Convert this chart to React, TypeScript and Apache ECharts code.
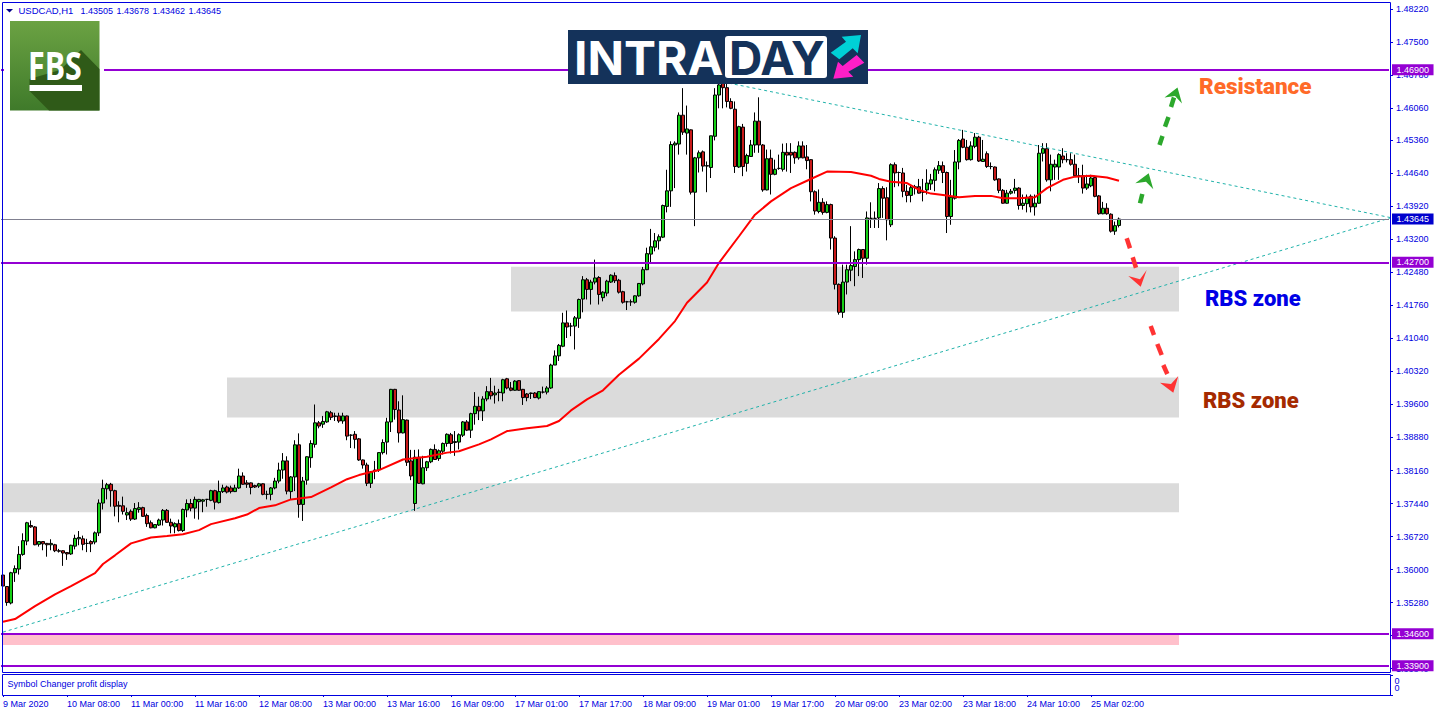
import React, { useEffect, useRef } from "react";
import * as echarts from "echarts";

// Each candle: [open, close, low, high]
const candles = [
[1.3588,1.3564,1.3517,1.3590],[1.3563,1.3528,1.3521,1.3564],[1.3527,1.3593,1.3524,1.3595],[1.3593,1.3602,1.3573,1.3609],[1.3601,1.3633,1.3589,1.3651],
[1.3633,1.3663,1.3630,1.3679],[1.3662,1.3702,1.3653,1.3704],[1.3696,1.3693,1.3691,1.3707],[1.3693,1.3654,1.3653,1.3695],[1.3655,1.3661,1.3650,1.3661],
[1.3661,1.3656,1.3642,1.3661],[1.3657,1.3654,1.3628,1.3658],[1.3654,1.3657,1.3642,1.3666],[1.3654,1.3641,1.3638,1.3656],[1.3641,1.3640,1.3637,1.3645],
[1.3641,1.3636,1.3608,1.3642],[1.3637,1.3634,1.3621,1.3638],[1.3634,1.3653,1.3632,1.3654],[1.3651,1.3668,1.3644,1.3676],[1.3667,1.3670,1.3653,1.3684],
[1.3667,1.3655,1.3642,1.3674],[1.3657,1.3657,1.3638,1.3667],[1.3661,1.3656,1.3638,1.3664],[1.3660,1.3680,1.3655,1.3683],[1.3680,1.3745,1.3673,1.3753],
[1.3745,1.3777,1.3731,1.3796],[1.3776,1.3785,1.3753,1.3789],[1.3786,1.3772,1.3737,1.3789],[1.3772,1.3738,1.3716,1.3774],[1.3740,1.3738,1.3703,1.3749],
[1.3739,1.3727,1.3720,1.3759],[1.3719,1.3724,1.3708,1.3735],[1.3727,1.3710,1.3706,1.3731],[1.3710,1.3733,1.3708,1.3745],[1.3731,1.3735,1.3724,1.3747],
[1.3735,1.3716,1.3715,1.3737],[1.3718,1.3700,1.3693,1.3722],[1.3702,1.3691,1.3690,1.3707],[1.3691,1.3698,1.3690,1.3699],[1.3697,1.3708,1.3695,1.3711],
[1.3708,1.3729,1.3696,1.3732],[1.3729,1.3703,1.3702,1.3732],[1.3703,1.3695,1.3679,1.3711],[1.3693,1.3700,1.3679,1.3703],[1.3700,1.3685,1.3683,1.3709],
[1.3685,1.3731,1.3682,1.3733],[1.3730,1.3744,1.3714,1.3753],[1.3744,1.3734,1.3727,1.3754],[1.3734,1.3753,1.3711,1.3759],[1.3748,1.3753,1.3709,1.3754],
[1.3749,1.3752,1.3725,1.3754],[1.3753,1.3753,1.3737,1.3754],[1.3751,1.3772,1.3749,1.3774],[1.3772,1.3747,1.3731,1.3774],[1.3746,1.3770,1.3744,1.3794],
[1.3770,1.3778,1.3767,1.3785],[1.3780,1.3769,1.3766,1.3783],[1.3778,1.3770,1.3766,1.3783],[1.3770,1.3778,1.3769,1.3785],[1.3778,1.3804,1.3776,1.3820],
[1.3804,1.3786,1.3785,1.3812],[1.3789,1.3786,1.3778,1.3795],[1.3789,1.3779,1.3764,1.3790],[1.3783,1.3780,1.3778,1.3785],[1.3782,1.3787,1.3778,1.3789],
[1.3787,1.3764,1.3762,1.3788],[1.3764,1.3764,1.3753,1.3772],[1.3764,1.3778,1.3751,1.3780],[1.3778,1.3793,1.3775,1.3800],[1.3793,1.3817,1.3788,1.3833],
[1.3817,1.3837,1.3798,1.3854],[1.3837,1.3771,1.3764,1.3847],[1.3770,1.3802,1.3753,1.3804],[1.3802,1.3872,1.3771,1.3882],[1.3872,1.3742,1.3713,1.3897],
[1.3742,1.3793,1.3706,1.3802],[1.3795,1.3846,1.3785,1.3847],[1.3844,1.3875,1.3822,1.3882],[1.3873,1.3920,1.3866,1.3960],[1.3920,1.3913,1.3908,1.3924],
[1.3917,1.3923,1.3909,1.3935],[1.3922,1.3944,1.3920,1.3946],[1.3942,1.3932,1.3926,1.3946],[1.3935,1.3934,1.3924,1.3942],[1.3935,1.3924,1.3920,1.3942],
[1.3924,1.3935,1.3918,1.3942],[1.3935,1.3891,1.3882,1.3936],[1.3893,1.3893,1.3865,1.3895],[1.3895,1.3884,1.3864,1.3902],[1.3885,1.3839,1.3837,1.3887],
[1.3839,1.3828,1.3820,1.3840],[1.3828,1.3788,1.3782,1.3833],[1.3788,1.3813,1.3778,1.3815],[1.3815,1.3817,1.3797,1.3837],[1.3818,1.3855,1.3813,1.3856],
[1.3855,1.3877,1.3851,1.3884],[1.3878,1.3922,1.3851,1.3931],[1.3922,1.3993,1.3900,1.3994],[1.3993,1.3949,1.3927,1.3994],[1.3948,1.3898,1.3877,1.3967],
[1.3898,1.3927,1.3897,1.3980],[1.3926,1.3834,1.3826,1.3927],[1.3837,1.3804,1.3795,1.3861],[1.3744,1.3845,1.3728,1.3861],[1.3845,1.3788,1.3787,1.3862],
[1.3787,1.3822,1.3786,1.3848],[1.3822,1.3835,1.3815,1.3837],[1.3835,1.3862,1.3832,1.3864],[1.3862,1.3840,1.3839,1.3873],[1.3842,1.3859,1.3837,1.3862],
[1.3858,1.3875,1.3851,1.3877],[1.3875,1.3895,1.3868,1.3897],[1.3894,1.3875,1.3853,1.3898],[1.3877,1.3879,1.3848,1.3902],[1.3878,1.3894,1.3862,1.3897],
[1.3893,1.3922,1.3889,1.3924],[1.3922,1.3904,1.3902,1.3926],[1.3904,1.3940,1.3887,1.3942],[1.3940,1.3956,1.3916,1.3987],[1.3956,1.3946,1.3926,1.3977],
[1.3946,1.3972,1.3924,1.3978],[1.3972,1.3988,1.3967,1.4000],[1.3988,1.3979,1.3971,1.4018],[1.3981,1.3985,1.3962,1.4001],[1.3987,1.3986,1.3967,1.3994],
[1.3985,1.4014,1.3967,1.4016],[1.4016,1.3996,1.3993,1.4018],[1.3996,1.3991,1.3989,1.4009],[1.3991,1.4011,1.3990,1.4013],[1.4012,1.3991,1.3990,1.4013],
[1.3993,1.3975,1.3959,1.3994],[1.3983,1.3975,1.3967,1.3985],[1.3985,1.3984,1.3972,1.3986],[1.3985,1.3975,1.3974,1.3987],[1.3974,1.3988,1.3971,1.3989],
[1.3987,1.3987,1.3984,1.3999],[1.3987,1.3996,1.3982,1.4000],[1.3996,1.4046,1.3994,1.4049],[1.4046,1.4066,1.4046,1.4078],[1.4066,1.4089,1.4055,1.4092],
[1.4087,1.4138,1.4085,1.4160],[1.4138,1.4129,1.4105,1.4165],[1.4131,1.4131,1.4109,1.4138],[1.4131,1.4149,1.4080,1.4153],[1.4148,1.4189,1.4127,1.4191],
[1.4190,1.4232,1.4161,1.4240],[1.4232,1.4211,1.4189,1.4236],[1.4211,1.4227,1.4178,1.4232],[1.4227,1.4236,1.4222,1.4276],[1.4237,1.4200,1.4178,1.4240],
[1.4193,1.4205,1.4185,1.4207],[1.4203,1.4229,1.4196,1.4232],[1.4227,1.4242,1.4225,1.4244],[1.4241,1.4230,1.4225,1.4248],[1.4231,1.4205,1.4202,1.4234],
[1.4206,1.4183,1.4180,1.4208],[1.4184,1.4184,1.4166,1.4186],[1.4184,1.4184,1.4175,1.4189],[1.4183,1.4197,1.4180,1.4198],[1.4197,1.4224,1.4195,1.4225],
[1.4223,1.4254,1.4220,1.4260],[1.4254,1.4289,1.4253,1.4302],[1.4288,1.4304,1.4269,1.4343],[1.4303,1.4317,1.4294,1.4334],[1.4317,1.4326,1.4298,1.4331],
[1.4325,1.4394,1.4323,1.4396],[1.4392,1.4426,1.4379,1.4472],[1.4426,1.4527,1.4391,1.4534],[1.4526,1.4530,1.4432,1.4534],[1.4528,1.4591,1.4505,1.4597],
[1.4591,1.4554,1.4548,1.4650],[1.4552,1.4561,1.4505,1.4612],[1.4559,1.4423,1.4418,1.4560],[1.4423,1.4498,1.4349,1.4500],[1.4498,1.4509,1.4466,1.4514],
[1.4511,1.4480,1.4468,1.4514],[1.4481,1.4480,1.4423,1.4490],[1.4477,1.4546,1.4454,1.4546],[1.4545,1.4635,1.4536,1.4650],[1.4635,1.4657,1.4606,1.4668],
[1.4660,1.4651,1.4606,1.4665],[1.4651,1.4621,1.4608,1.4660],[1.4621,1.4606,1.4604,1.4628],[1.4604,1.4479,1.4465,1.4621],[1.4478,1.4566,1.4476,1.4568],
[1.4565,1.4479,1.4458,1.4572],[1.4486,1.4503,1.4468,1.4507],[1.4501,1.4526,1.4500,1.4537],[1.4526,1.4578,1.4509,1.4597],[1.4578,1.4526,1.4509,1.4630],
[1.4526,1.4428,1.4424,1.4528],[1.4428,1.4496,1.4427,1.4516],[1.4497,1.4462,1.4418,1.4516],[1.4462,1.4473,1.4460,1.4494],[1.4475,1.4475,1.4472,1.4505],
[1.4473,1.4510,1.4468,1.4529],[1.4510,1.4504,1.4468,1.4530],[1.4510,1.4504,1.4465,1.4530],[1.4510,1.4498,1.4485,1.4512],[1.4498,1.4524,1.4494,1.4534],
[1.4524,1.4498,1.4497,1.4534],[1.4500,1.4492,1.4473,1.4526],[1.4494,1.4424,1.4403,1.4495],[1.4424,1.4382,1.4374,1.4427],[1.4381,1.4401,1.4377,1.4429],
[1.4401,1.4379,1.4374,1.4410],[1.4379,1.4396,1.4377,1.4403],[1.4396,1.4323,1.4298,1.4398],[1.4323,1.4222,1.4211,1.4327],[1.4222,1.4161,1.4156,1.4224],
[1.4161,1.4227,1.4149,1.4265],[1.4227,1.4254,1.4200,1.4265],[1.4253,1.4263,1.4229,1.4349],[1.4261,1.4276,1.4218,1.4294],[1.4276,1.4298,1.4240,1.4300],
[1.4298,1.4279,1.4236,1.4299],[1.4279,1.4367,1.4265,1.4381],[1.4366,1.4366,1.4345,1.4401],[1.4366,1.4366,1.4345,1.4381],[1.4367,1.4431,1.4345,1.4443],
[1.4431,1.4410,1.4367,1.4436],[1.4411,1.4363,1.4318,1.4434],[1.4352,1.4483,1.4347,1.4486],[1.4483,1.4465,1.4434,1.4488],[1.4466,1.4466,1.4436,1.4468],
[1.4465,1.4425,1.4412,1.4476],[1.4425,1.4416,1.4401,1.4439],[1.4416,1.4433,1.4401,1.4439],[1.4433,1.4435,1.4418,1.4439],[1.4435,1.4421,1.4420,1.4452],
[1.4423,1.4423,1.4403,1.4452],[1.4428,1.4443,1.4418,1.4473],[1.4441,1.4450,1.4428,1.4463],[1.4449,1.4472,1.4425,1.4477],[1.4471,1.4481,1.4463,1.4491],
[1.4481,1.4466,1.4443,1.4490],[1.4466,1.4370,1.4334,1.4468],[1.4370,1.4412,1.4352,1.4450],[1.4410,1.4489,1.4407,1.4515],[1.4489,1.4536,1.4473,1.4539],
[1.4539,1.4521,1.4519,1.4559],[1.4521,1.4494,1.4492,1.4537],[1.4494,1.4524,1.4492,1.4534],[1.4523,1.4543,1.4519,1.4552],[1.4543,1.4491,1.4489,1.4546],
[1.4490,1.4495,1.4489,1.4537],[1.4507,1.4479,1.4476,1.4512],[1.4479,1.4479,1.4473,1.4488],[1.4478,1.4450,1.4448,1.4479],[1.4452,1.4427,1.4421,1.4453],
[1.4427,1.4399,1.4398,1.4430],[1.4399,1.4421,1.4398,1.4428],[1.4421,1.4425,1.4418,1.4430],[1.4427,1.4432,1.4420,1.4452],[1.4432,1.4394,1.4385,1.4434],
[1.4394,1.4399,1.4385,1.4418],[1.4398,1.4412,1.4379,1.4418],[1.4414,1.4391,1.4379,1.4418],[1.4391,1.4399,1.4372,1.4418],[1.4399,1.4508,1.4398,1.4526],
[1.4508,1.4518,1.4490,1.4530],[1.4518,1.4450,1.4446,1.4530],[1.4450,1.4484,1.4425,1.4505],[1.4478,1.4484,1.4450,1.4494],[1.4478,1.4505,1.4450,1.4508],
[1.4502,1.4494,1.4486,1.4519],[1.4494,1.4494,1.4488,1.4508],[1.4494,1.4484,1.4481,1.4508],[1.4484,1.4459,1.4456,1.4505],[1.4459,1.4459,1.4443,1.4476],
[1.4459,1.4432,1.4420,1.4483],[1.4432,1.4441,1.4428,1.4461],[1.4437,1.4454,1.4434,1.4461],[1.4455,1.4414,1.4412,1.4459],[1.4415,1.4376,1.4374,1.4417],
[1.4376,1.4388,1.4375,1.4402],[1.4388,1.4376,1.4374,1.4399],[1.4375,1.4338,1.4335,1.4377],[1.4338,1.4350,1.4330,1.4359],[1.43505,1.43645,1.43462,1.43678],
];

const maIndex = [0,3,8,13,17,23,25,28,32,37,41,45,49,52,58,61,64,68,72,77,82,86,89,94,100,106,111,114,119,122,126,131,136,139,142,146,150,154,159,164,168,171,176,179,184,188,192,197,201,206,212,217,219,222,226,229,232,235,239,243,247,250,254,258,261,265,268,272,276,279];
const maValue = [1.3486,1.3492,1.3520,1.3546,1.3564,1.3592,1.3612,1.3631,1.3657,1.3670,1.3673,1.3677,1.3686,1.3699,1.3712,1.3720,1.3734,1.3740,1.3753,1.3758,1.3779,1.3797,1.3806,1.3817,1.3840,1.3846,1.3855,1.3858,1.3873,1.3884,1.3902,1.3908,1.3913,1.3924,1.3947,1.3971,1.3991,1.4025,1.4060,1.4103,1.4142,1.4182,1.4226,1.4269,1.4327,1.4374,1.4403,1.4432,1.4448,1.4468,1.4467,1.4459,1.4452,1.4446,1.4443,1.4428,1.4420,1.4417,1.4412,1.4415,1.4415,1.4410,1.4410,1.4412,1.4432,1.4450,1.4457,1.4459,1.4455,1.4448];

const trendLower = [[0,1.34635],[347,1.43674]];
const trendUpper = [[180,1.46636],[347,1.43674]];

const priceTicks = [1.4822,1.475,1.4678,1.4606,1.4536,1.4464,1.4392,1.432,1.4248,1.4176,1.4104,1.4032,1.396,1.3888,1.3816,1.3744,1.3672,1.36,1.3528,1.3456,1.3384];
const timeTicks = ["9 Mar 2020","10 Mar 08:00","11 Mar 00:00","11 Mar 16:00","12 Mar 08:00","13 Mar 00:00","13 Mar 16:00","16 Mar 09:00","17 Mar 01:00","17 Mar 17:00","18 Mar 09:00","19 Mar 01:00","19 Mar 17:00","20 Mar 09:00","23 Mar 02:00","23 Mar 18:00","24 Mar 10:00","25 Mar 02:00"];
const BARS_PER_TICK = 16;
const CATEGORY_COUNT = 347;

const levels = [1.469,1.427,1.346,1.339];
const lastPrice = 1.43645;
const titleSymbol = "USDCAD,H1";
const titleOHLC = ["1.43505","1.43678","1.43462","1.43645"];
const subWindowName = "Symbol Changer profit display";
const subWindowValues = ["0","0"];

// [startIndex, endIndex, lowPrice, highPrice, colour]
const zones: [number,number,number,number,string][] = [
  [127,294,1.41627,1.42607,"#dbdbdb"],
  [56,294,1.39318,1.40189,"#dbdbdb"],
  [0,294,1.37248,1.3788,"#dbdbdb"],
  [0,294,1.34352,1.34591,"#ffc0cb"],
];

const BLUE = "#0000e0";
const PURPLE = "#9400d3";
const FRAME_GREEN = "#2ca82c";
const ARROW_RED = "#ff3333";

function dash(x1:number,y1:number,x2:number,y2:number,color:string){
  return {type:"line",z:50,shape:{x1,y1,x2,y2},style:{stroke:color,lineWidth:4.5}};
}
function head(points:number[][],color:string){
  return {type:"polygon",z:50,shape:{points},style:{fill:color}};
}
function txt(text:string,x:number,y:number,font:string,fill:string,extra:any={}){
  return {type:"text",z:100,x,y,...extra,style:{text,x:0,y:0,font,fill,verticalAlign:"middle",align:"left"}};
}
function levelLine(value:number,bg:string,lineStyle:any){
  return {
    yAxis:value,
    lineStyle,
    label:{
      show:true,position:"end",distance:3,formatter:()=>value.toFixed(5),
      backgroundColor:bg,color:"#fff",fontFamily:"Liberation Sans",fontSize:9,
      padding:[1,4.5,1,4.5],lineHeight:9,
    },
  };
}

const graphics = [
  // chart frames
  {type:"rect",z:40,shape:{x:2.5,y:2.5,width:1388,height:670},style:{fill:"none",stroke:BLUE,lineWidth:1}},
  {type:"rect",z:40,shape:{x:2.5,y:674.5,width:1388,height:21},style:{fill:"none",stroke:BLUE,lineWidth:1}},
  // title
  {type:"polygon",z:100,shape:{points:[[6,9],[13,9],[9.5,12.5]]},style:{fill:"#00008b"}},
  txt(titleSymbol,18.5,10.5,"9.5px 'Liberation Sans'",BLUE),
  ...titleOHLC.map((t,i)=>txt(t,80.5+36*i,10.5,"9px 'Liberation Sans'",BLUE)),
  txt(subWindowName,7.5,684,"9px 'Liberation Sans'",BLUE),
  ...subWindowValues.map((t,i)=>txt(t,1394.5,681+i*7,"9px 'Liberation Sans'",BLUE)),
  // FBS logo
  {type:"rect",z:90,shape:{x:4,y:60,width:100,height:20},style:{fill:"#fff"}},
  {type:"rect",z:91,shape:{x:10,y:21,width:89.5,height:89.5},style:{fill:new echarts.graphic.LinearGradient(0,0,0,1,[{offset:0,color:"#6ba243"},{offset:1,color:"#3f7a2a"}])}},
  {type:"polygon",z:92,shape:{points:[[81,50],[99.5,69],[99.5,110.5],[49,110.5],[29.5,91],[29.5,79],[60,70]]},style:{fill:"#2f5a18"}},
  txt("FBS",28,64,"bold 40px 'Open Sans'","#fff",{scaleX:0.76}),
  {type:"rect",z:100,shape:{x:29.5,y:85,width:52.5,height:6},style:{fill:"#fff"}},
  // INTRADAY logo
  {type:"rect",z:90,shape:{x:568,y:30,width:300,height:54},style:{fill:"#14325a"}},
  txt("INTRA",574,58,"bold 47px Inter","#fff",{scaleX:1.02}),
  {type:"rect",z:95,shape:{x:725,y:36,width:102,height:42,r:3},style:{fill:"#fff"}},
  txt("DAY",729,58,"bold 47px Inter","#14325a",{scaleX:0.98}),
  {type:"polygon",z:100,shape:{points:[[861,35],[841.7,36.7],[846,41.7],[830.7,52.7],[839.3,59.3],[852.7,48.3],[857.7,53.3]]},style:{fill:"#00d0d6"}},
  {type:"polygon",z:100,shape:{points:[[833.3,78.7],[853.3,76.7],[848.3,71.7],[864.3,62.7],[856.7,55],[842.7,66],[838,61.7]]},style:{fill:"#ff1fc8"}},
  // arrows
  dash(1159.5,145,1162.5,136,FRAME_GREEN),dash(1165,126.7,1168.5,117,FRAME_GREEN),dash(1171,107,1174,97.5,FRAME_GREEN),
  head([[1177.5,87.5],[1164.5,97.5],[1175,96],[1182,103.5]],FRAME_GREEN),
  dash(1140,203.3,1142.3,194,FRAME_GREEN),
  head([[1148.7,173.3],[1135.3,183.3],[1146,181.7],[1153.3,189.3]],FRAME_GREEN),
  dash(1126.7,238.3,1130,248.3,ARROW_RED),dash(1132.7,257.3,1136,267.7,ARROW_RED),
  head([[1140.7,286.7],[1128.3,276],[1140,279.3],[1146.7,270]],ARROW_RED),
  dash(1150.7,326,1154,335,ARROW_RED),dash(1157.3,344,1161.7,355,ARROW_RED),dash(1163.3,365,1167.3,374,ARROW_RED),
  head([[1173.3,392.7],[1160,382.7],[1171,384],[1178.3,376]],ARROW_RED),
  // annotations
  txt("Resistance",1199,86,"900 22.5px Roboto","#ff6a28"),
  txt("RBS zone",1205,298,"900 22px Roboto","#0000e6"),
  txt("RBS zone",1203,400,"900 22px Roboto","#a52a00"),
];

const categories = Array.from({length:CATEGORY_COUNT},(_,i)=>String(i));
const showTick = (i:number)=> i%BARS_PER_TICK===0 && i/BARS_PER_TICK<timeTicks.length;

const option:any = {
  animation:false,
  backgroundColor:"#fff",
  grid:[
    {left:1,top:2,width:1388,height:670,containLabel:false},
    {left:1,top:675,width:1388,height:20,containLabel:false},
  ],
  xAxis:[
    {type:"category",gridIndex:0,data:categories,show:false},
    {type:"category",gridIndex:1,data:categories,
      axisLine:{show:false},
      axisTick:{show:true,interval:(i:number)=>showTick(i),alignWithLabel:true,length:2,lineStyle:{color:BLUE}},
      splitLine:{show:false},
      axisLabel:{show:true,interval:(i:number)=>showTick(i),align:"left",margin:4,color:BLUE,fontFamily:"Liberation Sans",fontSize:9,
        formatter:(_:string,i:number)=>timeTicks[i/BARS_PER_TICK] ?? ""},
    },
  ],
  yAxis:[
    {type:"value",gridIndex:0,position:"right",offset:1,min:1.33765,max:1.48379,
      splitLine:{show:false},
      axisLine:{show:false},
      axisTick:{show:true,customValues:priceTicks,length:3,lineStyle:{color:BLUE}},
      axisLabel:{show:true,customValues:priceTicks,margin:6,color:BLUE,fontFamily:"Liberation Sans",fontSize:9,formatter:(v:number)=>v.toFixed(5)},
    },
    {type:"value",gridIndex:1,position:"right",offset:1,min:0,max:1,
      splitLine:{show:false},
      axisLine:{show:false},
      axisTick:{show:true,customValues:[0,1],length:3,lineStyle:{color:BLUE}},
      axisLabel:{show:false},
    },
  ],
  series:[
    {
      type:"candlestick",xAxisIndex:0,yAxisIndex:0,data:candles,barWidth:3,clip:true,
      itemStyle:{color:"#16d016",color0:"#c81a1a",borderColor:"#000",borderColor0:"#000",borderColorDoji:"#000",borderWidth:1},
      markArea:{silent:true,itemStyle:{opacity:1},
        data:zones.map(([a,b,lo,hi,c])=>[
          {xAxis:a,yAxis:hi,itemStyle:{color:c,opacity:1}},
          {xAxis:b,yAxis:lo},
        ])},
      markLine:{silent:true,symbol:["none","none"],precision:5,animation:false,
        data:[
          levelLine(lastPrice,"#0000cd",{color:"#808090",width:1,type:"solid"}),
          ...levels.map(v=>levelLine(v,PURPLE,{color:PURPLE,width:2,type:"solid"})),
        ]},
    },
    {type:"line",xAxisIndex:0,yAxisIndex:0,data:trendLower,showSymbol:false,symbol:"none",lineStyle:{color:"#20b2aa",width:1,type:[3,3]},z:3},
    {type:"line",xAxisIndex:0,yAxisIndex:0,data:trendUpper,showSymbol:false,symbol:"none",lineStyle:{color:"#20b2aa",width:1,type:[3,3]},z:3},
    {type:"line",xAxisIndex:0,yAxisIndex:0,data:maIndex.map((k,i)=>[k,maValue[i]]),showSymbol:false,symbol:"none",lineStyle:{color:"#ff0000",width:2},z:4},
    {type:"line",xAxisIndex:1,yAxisIndex:1,data:[],showSymbol:false},
  ],
  graphic:{elements:graphics},
};

export default function App(){
  const ref = useRef<HTMLDivElement>(null);
  useEffect(()=>{
    const chart = echarts.init(ref.current!,undefined,{renderer:"svg"});
    chart.setOption(option);
    return ()=>chart.dispose();
  },[]);
  return <div ref={ref} style={{position:"fixed",left:0,top:0,width:1436,height:716,background:"#fff"}}/>;
}
